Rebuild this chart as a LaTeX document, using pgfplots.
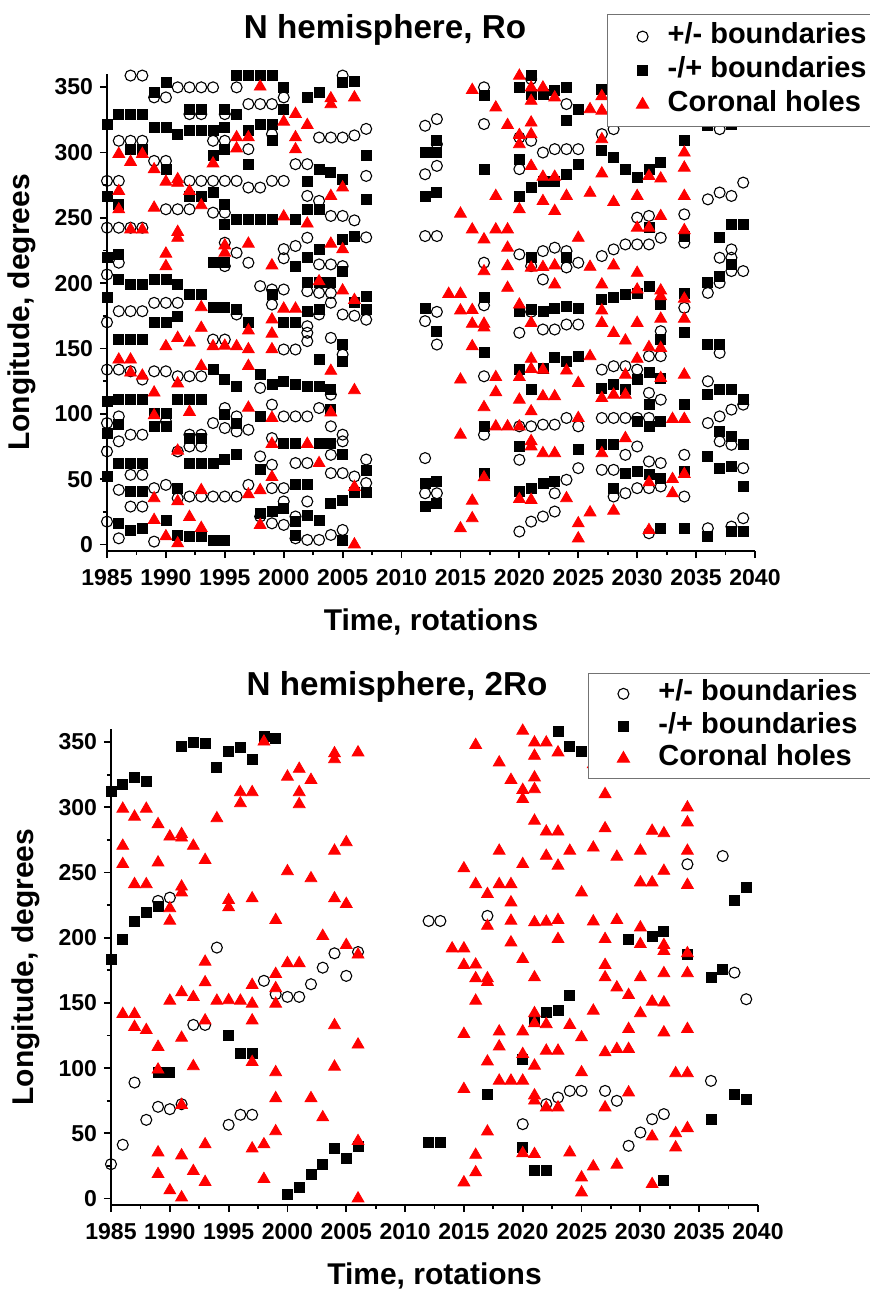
\documentclass[border=0pt]{standalone}
\usepackage{fontspec}
\setmainfont{Liberation Sans}
\usepackage{pgfplots}
\usepackage{pgfplotstable}
\pgfplotsset{compat=1.18}

% coronal holes: same in both panels
\pgfplotstableread{
x y
1986 298.8
1986 270.4
1986 256.4
1986 141.4
1987 292.7
1987 241
1987 141.4
1987 131.5
1988 298.8
1988 240.9
1988 129.1
1989 287
1989 257.6
1989 116.2
1989 98.8
1989 35.3
1989 18.7
1990 277.5
1990 222.5
1990 212.9
1990 151.6
1990 6.2
1991 279.4
1991 276.7
1991 239.1
1991 234.6
1991 158
1991 123.2
1991 71.7
1991 33
1991 0.8
1992 270.4
1992 154.4
1992 101.4
1992 21
1993 259.5
1993 181.5
1993 165.7
1993 136.5
1993 41.5
1993 12.6
1994 291.5
1994 151.6
1995 228.8
1995 223.2
1995 152
1996 311.5
1996 303
1996 151.6
1997 311.5
1997 230.1
1997 163.7
1997 149.3
1997 136.5
1997 104.6
1997 38.3
1998 350.3
1998 41.5
1998 14.9
1999 213.5
1999 172.1
1999 161.2
1999 149.3
1999 96.8
1999 76.9
1999 51.5
2000 323.4
2000 250.9
2000 180.4
2001 329.4
2001 311.5
2001 302.3
2001 180.4
2002 320.9
2002 245.5
2002 76.9
2003 201.3
2003 62.2
2004 341.3
2004 336.8
2004 266.6
2004 230.1
2004 132.8
2004 101
2005 273.1
2005 225.8
2005 194.3
2006 342
2006 187
2006 118
2006 44
2006 0
2014 191.7
2015 253.1
2015 191.7
2015 179
2015 126.1
2015 83.9
2015 12.3
2016 347.7
2016 241
2016 179.3
2016 168.8
2016 151.6
2016 33.4
2016 20
2017 233.4
2017 209
2017 168.8
2017 166
2017 105
2017 51.3
2018 334.3
2018 266.6
2018 241
2018 128
2018 116.5
2018 90.3
2019 320.9
2019 241
2019 227
2019 212.9
2019 196.3
2019 90.3
2020 358.6
2020 313.2
2020 306.2
2020 256.4
2020 183.5
2020 128
2020 110.7
2020 90.3
2020 34.7
2021 349.6
2021 339.4
2021 322.8
2021 313.8
2021 289.6
2021 211.7
2021 169.5
2021 142
2021 134.3
2021 101.8
2021 79
2021 75
2021 34
2022 349.6
2022 281.3
2022 262.7
2022 212.2
2022 133.6
2022 113.3
2022 69.8
2023 342
2023 281.3
2023 255.1
2023 213.5
2023 198.9
2023 113.3
2023 69.8
2024 266.6
2024 133
2024 35.3
2025 234.6
2025 123.5
2025 96.7
2025 16.1
2025 4.6
2026 333
2026 269
2026 212.4
2026 144
2026 24.5
2027 343
2027 331.9
2027 310
2027 283.8
2027 198.9
2027 179
2027 169.5
2027 112
2027 69.8
2028 262
2028 213.5
2028 161.8
2028 114.6
2028 25.8
2029 156
2029 129.9
2029 114.6
2029 81.3
2030 266.6
2030 242.3
2030 207.8
2030 195
2030 169.5
2030 142
2031 281.9
2031 242.3
2031 150.9
2031 47.5
2031 11
2032 280
2032 251.2
2032 194.3
2032 189.8
2032 172.7
2032 150.3
2032 127.3
2033 96
2033 50
2033 39.1
2034 299.8
2034 288.3
2034 266.6
2034 240.4
2034 188
2034 172.7
2034 129.9
2034 96
2034 53.9
}\holes

\pgfplotsset{
  rotaxis/.style={
    scale only axis, anchor=north west,
    xmin=1985, xmax=2040, ymin=-5, ymax=360,
    axis lines*=left,
    axis line style={line width=1.1pt},
    tick align=outside,
    xtick={1985,1990,...,2040},
    ytick={0,50,...,350},
    minor x tick num=1, minor y tick num=1,
    major tick length=3.5pt, minor tick length=2pt,
    every tick/.style={line width=0.9pt, black},
    /pgf/number format/assume math mode=true,
    /pgf/number format/1000 sep={},
    tick label style={font=\fontsize{11.5}{13}\selectfont\bfseries},
    xticklabel style={yshift=-2pt},
    xlabel={Time, rotations},
    ylabel={Longitude, degrees},
    every axis x label/.style={at={(rel axis cs:0.5,0)}, anchor=center,
      yshift=-35.5pt, font=\fontsize{15}{18}\selectfont\bfseries},
    every axis y label/.style={at={(rel axis cs:0,0.5)}, anchor=center,
      xshift=-42.5pt, rotate=90, font=\fontsize{15}{18}\selectfont\bfseries},
    title style={font=\fontsize{16.6}{19}\selectfont\bfseries, anchor=center, yshift=-6pt},
    legend cell align=left,
    legend style={anchor=north west, draw=black!55, line width=0.6pt, fill=white,
      font=\fontsize{14.5}{17}\selectfont\bfseries, row sep=0pt,
      inner xsep=12pt, inner ysep=2.5pt,
      nodes={inner xsep=3pt, inner ysep=1.5pt, text height=10.5pt, text depth=3.5pt}},
  },
  circ/.style={only marks, mark=o, mark size=2.75pt, mark options={black, line width=0.55pt}},
  sq/.style={only marks, mark=square*, mark size=2.5pt, black},
  tri/.style={only marks, mark=triangle*, mark size=3.4pt, red},
}

\begin{document}
\begin{tikzpicture}
\path[use as bounding box] (0,0) rectangle (435pt,-646pt);

% ---- top: Ro ----
\begin{axis}[rotaxis, at={(53.5pt,-37pt)}, width=324pt, height=238.5pt,
  title={N hemisphere, Ro}, title style={at={(0.429,1.092)}},
  legend style={at={(0.7716,1.1258)}},
  legend image code/.code={\path[draw=none, fill=none] (0pt,-5pt) rectangle (15pt,5pt);
      \draw[#1] plot coordinates {(5.5pt,0pt)};}]
\addplot[circ] coordinates {
(1985,278.2)(1985,242.4)(1985,206.6)(1985,170)(1985,133.8)(1985,92.9)(1985,71.2)(1985,17.5)
(1986,308.9)(1986,278.2)(1986,242.4)(1986,215.6)(1986,178.5)(1986,133.8)(1986,98)(1986,78.9)(1986,41.8)(1986,4.7)
(1987,358.8)(1987,308.9)(1987,242.4)(1987,178.5)(1987,132.5)(1987,84)(1987,53.3)(1987,29)
(1988,358.8)(1988,308.9)(1988,242.4)(1988,178.5)(1988,126.2)(1988,84)(1988,53.3)(1988,29)
(1989,342.1)(1989,293.5)(1989,184.9)(1989,132.5)(1989,43.1)(1989,2.2)
(1990,342.1)(1990,293.5)(1990,256.5)(1990,184.9)(1990,132.5)(1990,94.2)(1990,45.6)
(1991,349.8)(1991,256.5)(1991,184.9)(1991,128.7)(1991,71.2)(1991,35.4)
(1992,349.8)(1992,329.3)(1992,278.2)(1992,256.5)(1992,128.7)(1992,84)(1992,75)(1992,36.7)
(1993,349.8)(1993,329.3)(1993,278.2)(1993,128.7)(1993,84)(1993,75)(1993,36.7)
(1994,349.8)(1994,308.9)(1994,278.2)(1994,253.9)(1994,156.8)(1994,92.9)(1994,36.7)
(1995,329.3)(1995,308.9)(1995,278.2)(1995,253.9)(1995,230.9)(1995,213)(1995,156.8)(1995,104.4)(1995,89.1)(1995,36.7)
(1996,349.8)(1996,278.2)(1996,223.2)(1996,176)(1996,98)(1996,86.5)(1996,36.7)
(1997,337)(1997,302.5)(1997,273.1)(1997,215.6)(1997,87.8)(1997,45.6)
(1998,337)(1998,273.1)(1998,197.7)(1998,119.8)(1998,67.4)(1998,21.4)
(1999,337)(1999,314)(1999,278.2)(1999,195.1)(1999,183.6)(1999,107)(1999,81.4)(1999,61)(1999,43.1)(1999,16.2)
(2000,342.1)(2000,278.2)(2000,226)(2000,219)(2000,195.1)(2000,149.2)(2000,98)(2000,43.1)(2000,32.9)(2000,15)
(2001,291)(2001,228.4)(2001,149.2)(2001,98)(2001,62.3)(2001,21.4)(2001,4.7)
(2002,291)(2002,266.7)(2002,234.7)(2002,193.8)(2002,167)(2002,162)(2002,155.6)(2002,98)(2002,62.3)(2002,32.9)(2002,3.5)
(2003,311.4)(2003,262.9)(2003,214.3)(2003,192.5)(2003,176)(2003,104.4)(2003,3.5)
(2004,311.4)(2004,251.4)(2004,214.3)(2004,192.5)(2004,185)(2004,158.1)(2004,114.7)(2004,90.4)(2004,68.6)(2004,54.6)(2004,7.3)
(2005,358.8)(2005,311.4)(2005,251.4)(2005,213)(2005,176)(2005,145.3)(2005,84)(2005,78.9)(2005,54.6)(2005,11.1)
(2006,313)(2006,248)(2006,175)(2006,52)
(2007,318)(2007,282)(2007,235)(2007,172)(2007,65)(2007,47)
(2012,320.4)(2012,283.3)(2012,236)(2012,170.9)(2012,66.1)(2012,39.2)
(2013,325.5)(2013,306.3)(2013,289.7)(2013,236)(2013,178)(2013,153)(2013,39.2)
(2017,349.8)(2017,321.7)(2017,215.6)(2017,183)(2017,128.7)(2017,84)
(2020,311.4)(2020,287.2)(2020,222)(2020,162)(2020,90.4)(2020,64.8)(2020,9.9)
(2021,356.2)(2021,308.9)(2021,213)(2021,178)(2021,90.4)(2021,17.5)
(2022,299.9)(2022,224.5)(2022,202.8)(2022,164.5)(2022,91.7)(2022,21.4)
(2023,302.5)(2023,227.1)(2023,164.5)(2023,91.7)(2023,39.2)(2023,25.2)
(2024,337)(2024,302.5)(2024,224.5)(2024,212)(2024,168.3)(2024,96.8)(2024,49.5)
(2025,302.5)(2025,215.6)(2025,168.3)(2025,90.4)(2025,58.4)
(2027,314)(2027,220.7)(2027,133.8)(2027,96.8)(2027,57.1)
(2028,317.8)(2028,225.8)(2028,136.4)(2028,96.8)(2028,57.1)(2028,36.7)
(2029,229.6)(2029,136.4)(2029,96.8)(2029,68.6)(2029,39.2)
(2030,250.1)(2030,229.6)(2030,133.8)(2030,96.8)(2030,75)(2030,43.1)
(2031,251.4)(2031,229.6)(2031,144.1)(2031,116)(2031,96.8)(2031,63.5)(2031,43.1)(2031,8.6)
(2032,234.7)(2032,163.2)(2032,144.1)(2032,110.8)(2032,62.3)(2032,44.4)
(2034,252.6)(2034,230.9)(2034,181.1)(2034,68.6)(2034,36.7)
(2036,264.1)(2036,192.5)(2036,124.9)(2036,92.9)(2036,12.4)
(2037,317.8)(2037,269.3)(2037,219.4)(2037,200.2)(2037,146.6)(2037,98)(2037,78.9)
(2038,266.7)(2038,225.8)(2038,219.4)(2038,209.2)(2038,103.2)(2038,76.3)(2038,13.7)
(2039,276.9)(2039,209.2)(2039,107)(2039,58.4)(2039,20.1)
};
\addlegendentry{+/- boundaries\hspace{16pt}}
\addplot[sq] coordinates {
(1985,321.7)(1985,266.7)(1985,219.4)(1985,188.7)(1985,109.5)(1985,85.3)(1985,52)
(1986,329.3)(1986,260)(1986,222)(1986,202.8)(1986,156.8)(1986,110.8)(1986,91.7)(1986,62.3)(1986,16.2)
(1987,329.3)(1987,302.5)(1987,199)(1987,156.8)(1987,110.8)(1987,62.3)(1987,40.5)(1987,11.1)
(1988,329.3)(1988,302.5)(1988,199)(1988,156.8)(1988,110.8)(1988,62.3)(1988,40.5)(1988,12.4)
(1989,346)(1989,319.1)(1989,202.8)(1989,169.6)(1989,100.6)(1989,90.4)
(1990,353.6)(1990,319.1)(1990,287.2)(1990,202.8)(1990,169.6)(1990,100.6)(1990,90.4)(1990,18.8)
(1991,314)(1991,199)(1991,174.7)(1991,110.8)(1991,43.1)(1991,7.3)
(1992,333.2)(1992,316.6)(1992,266.7)(1992,191.3)(1992,110.8)(1992,81.4)(1992,62.3)(1992,6)
(1993,333.2)(1993,316.6)(1993,266.7)(1993,191.3)(1993,110.8)(1993,81.4)(1993,62.3)(1993,6)
(1994,316.6)(1994,297.4)(1994,269.3)(1994,215.6)(1994,181.1)(1994,133.8)(1994,62)(1994,3.5)
(1995,333.2)(1995,319.1)(1995,302.5)(1995,260.3)(1995,245)(1995,215.6)(1995,181.1)(1995,126.2)(1995,99.3)(1995,64.8)(1995,3.5)
(1996,358.8)(1996,329.3)(1996,248.8)(1996,179.8)(1996,121)(1996,92.9)(1996,68.6)
(1997,358.8)(1997,316.6)(1997,291)(1997,248.8)(1997,169.6)
(1998,358.8)(1998,321.7)(1998,248.8)(1998,130)(1998,98)(1998,57.1)(1998,23.9)
(1999,358.8)(1999,321.7)(1999,308.9)(1999,248.8)(1999,191.3)(1999,122.3)(1999,25.2)
(2000,349.8)(2000,333.2)(2000,169.6)(2000,124.9)(2000,77.6)(2000,27.8)
(2001,248.8)(2001,213)(2001,169.6)(2001,122.3)(2001,77.6)(2001,45.6)(2001,17.5)(2001,7.3)
(2002,342.1)(2002,278.2)(2002,256.5)(2002,219.4)(2002,200.2)(2002,178.5)(2002,121)(2002,45.6)(2002,22.6)
(2003,346)(2003,287.2)(2003,256.5)(2003,225.8)(2003,200.2)(2003,180)(2003,141.5)(2003,121)(2003,77.6)(2003,18.8)
(2004,284.6)(2004,200.2)(2004,118.5)(2004,103.2)(2004,77.6)(2004,31.6)
(2005,353.6)(2005,279.5)(2005,233.5)(2005,209.2)(2005,153)(2005,140.2)(2005,68.6)(2005,34.1)(2005,3.5)
(2006,354)(2006,236)(2006,185)(2006,40)
(2007,298)(2007,264)(2007,190)(2007,180)(2007,57)(2007,40)
(2012,299.9)(2012,266.7)(2012,181)(2012,46.9)(2012,29)
(2013,308.9)(2013,299.9)(2013,269.3)(2013,163.2)(2013,48.2)(2013,31.6)
(2017,343.4)(2017,287.2)(2017,188.7)(2017,146.6)(2017,90.4)(2017,54.6)
(2020,349.8)(2020,294.8)(2020,266.7)(2020,178)(2020,133.8)(2020,75)(2020,40.5)
(2021,358.8)(2021,344.7)(2021,273.1)(2021,219.4)(2021,180)(2021,118.5)(2021,43.1)
(2022,344.7)(2022,278.2)(2022,178)(2022,135.1)(2022,46.9)
(2023,347.2)(2023,278.2)(2023,181)(2023,142.8)(2023,48.2)
(2024,349.8)(2024,324.2)(2024,283.3)(2024,219.4)(2024,182)(2024,140.2)
(2025,333.2)(2025,291)(2025,181)(2025,144.1)(2025,72.5)
(2027,348)(2027,301.2)(2027,187.4)(2027,119.8)(2027,76.3)
(2028,296.1)(2028,188.7)(2028,122.3)(2028,76.3)(2028,43.1)
(2029,287.2)(2029,191.3)(2029,118.5)(2029,54.6)
(2030,280.8)(2030,192.5)(2030,126.2)(2030,94.2)(2030,55.9)
(2031,287.2)(2031,242.4)(2031,197.7)(2031,131.3)(2031,107)(2031,90.4)(2031,53.3)
(2032,292.3)(2032,183.6)(2032,156.8)(2032,127.4)(2032,94.2)(2032,50.8)(2032,12.4)
(2034,308.9)(2034,236)(2034,192.5)(2034,162)(2034,107)(2034,55.9)(2034,12.4)
(2036,320.4)(2036,200.2)(2036,153)(2036,114.7)(2036,67.4)(2036,6)
(2037,234.7)(2037,205.3)(2037,153)(2037,118.5)(2037,86.5)(2037,58.4)
(2038,321.7)(2038,245)(2038,214.3)(2038,118.5)(2038,82.7)(2038,59.7)(2038,9.9)
(2039,245)(2039,110.8)(2039,76.3)(2039,44.4)(2039,9.9)
};
\addlegendentry{-/+ boundaries}
\addplot[tri] table {\holes};
\addlegendentry{Coronal holes}
\end{axis}

% ---- bottom: 2Ro ----
\begin{axis}[rotaxis, at={(55.5pt,-364.5pt)}, width=323.5pt, height=238pt,
  title={N hemisphere, 2Ro}, title style={at={(0.442,1.088)}},
  legend style={at={(0.737,1.1176)}, inner xsep=12pt, inner ysep=2pt,
    nodes={text height=10pt, text depth=3.2pt}},
  legend image code/.code={\path[draw=none, fill=none] (0pt,-5pt) rectangle (20pt,5pt);
      \draw[#1] plot coordinates {(5.5pt,0pt)};}]
\addplot[circ] coordinates {
(1985,26.3)(1986,41.2)(1987,88.9)(1988,60.3)(1989,228.2)(1989,70.3)(1990,230.7)(1990,68.5)
(1991,72.3)(1992,133.1)(1993,133.1)(1994,192.4)(1995,56.5)(1996,64.2)(1997,64.2)(1998,166.9)
(1999,156.6)(2000,154.6)(2001,154.6)(2002,164.3)(2003,177)(2004,188)(2005,170.7)(2006,189)
(2012,212.8)(2013,212.8)(2017,216.7)(2020,57)(2022,72.3)(2023,77.4)(2024,82.5)(2025,82.5)
(2027,82.5)(2028,74.9)(2029,40.4)(2030,50.6)(2031,60.8)(2032,64.7)(2034,256.3)(2036,90.2)
(2037,262.6)(2038,173.2)(2039,152.8)
};
\addlegendentry{+/- boundaries\hspace{12pt}}
\addplot[sq] coordinates {
(1985,312.5)(1985,183.4)(1986,317.6)(1986,198.8)(1987,322.7)(1987,212.8)(1988,320.1)(1988,219.2)
(1989,224.3)(1989,96.6)(1990,96.6)(1991,346.4)(1992,350)(1993,349)(1994,330.9)(1995,342.6)
(1995,124.7)(1996,345.7)(1996,111.2)(1997,336.7)(1997,111.2)(1998,354.6)(1999,353)(2000,3.3)
(2001,8.4)(2002,18.7)(2003,26.3)(2004,38.6)(2005,30.9)(2006,40)(2012,42.9)(2013,42.9)
(2017,80)(2020,106.8)(2020,39.1)(2021,136.2)(2021,21.2)(2022,142.6)(2022,21.2)(2023,143.9)
(2023,358.5)(2024,155.4)(2024,347)(2025,342.6)(2029,198.8)(2031,201.3)(2032,205.1)(2032,13.6)
(2034,187.3)(2036,169.4)(2036,60.8)(2037,175.8)(2038,228.2)(2038,80)(2039,238.4)(2039,76.2)
};
\addlegendentry{-/+ boundaries}
\addplot[tri] table {\holes};
\addlegendentry{Coronal holes}
\end{axis}
\end{tikzpicture}
\end{document}
